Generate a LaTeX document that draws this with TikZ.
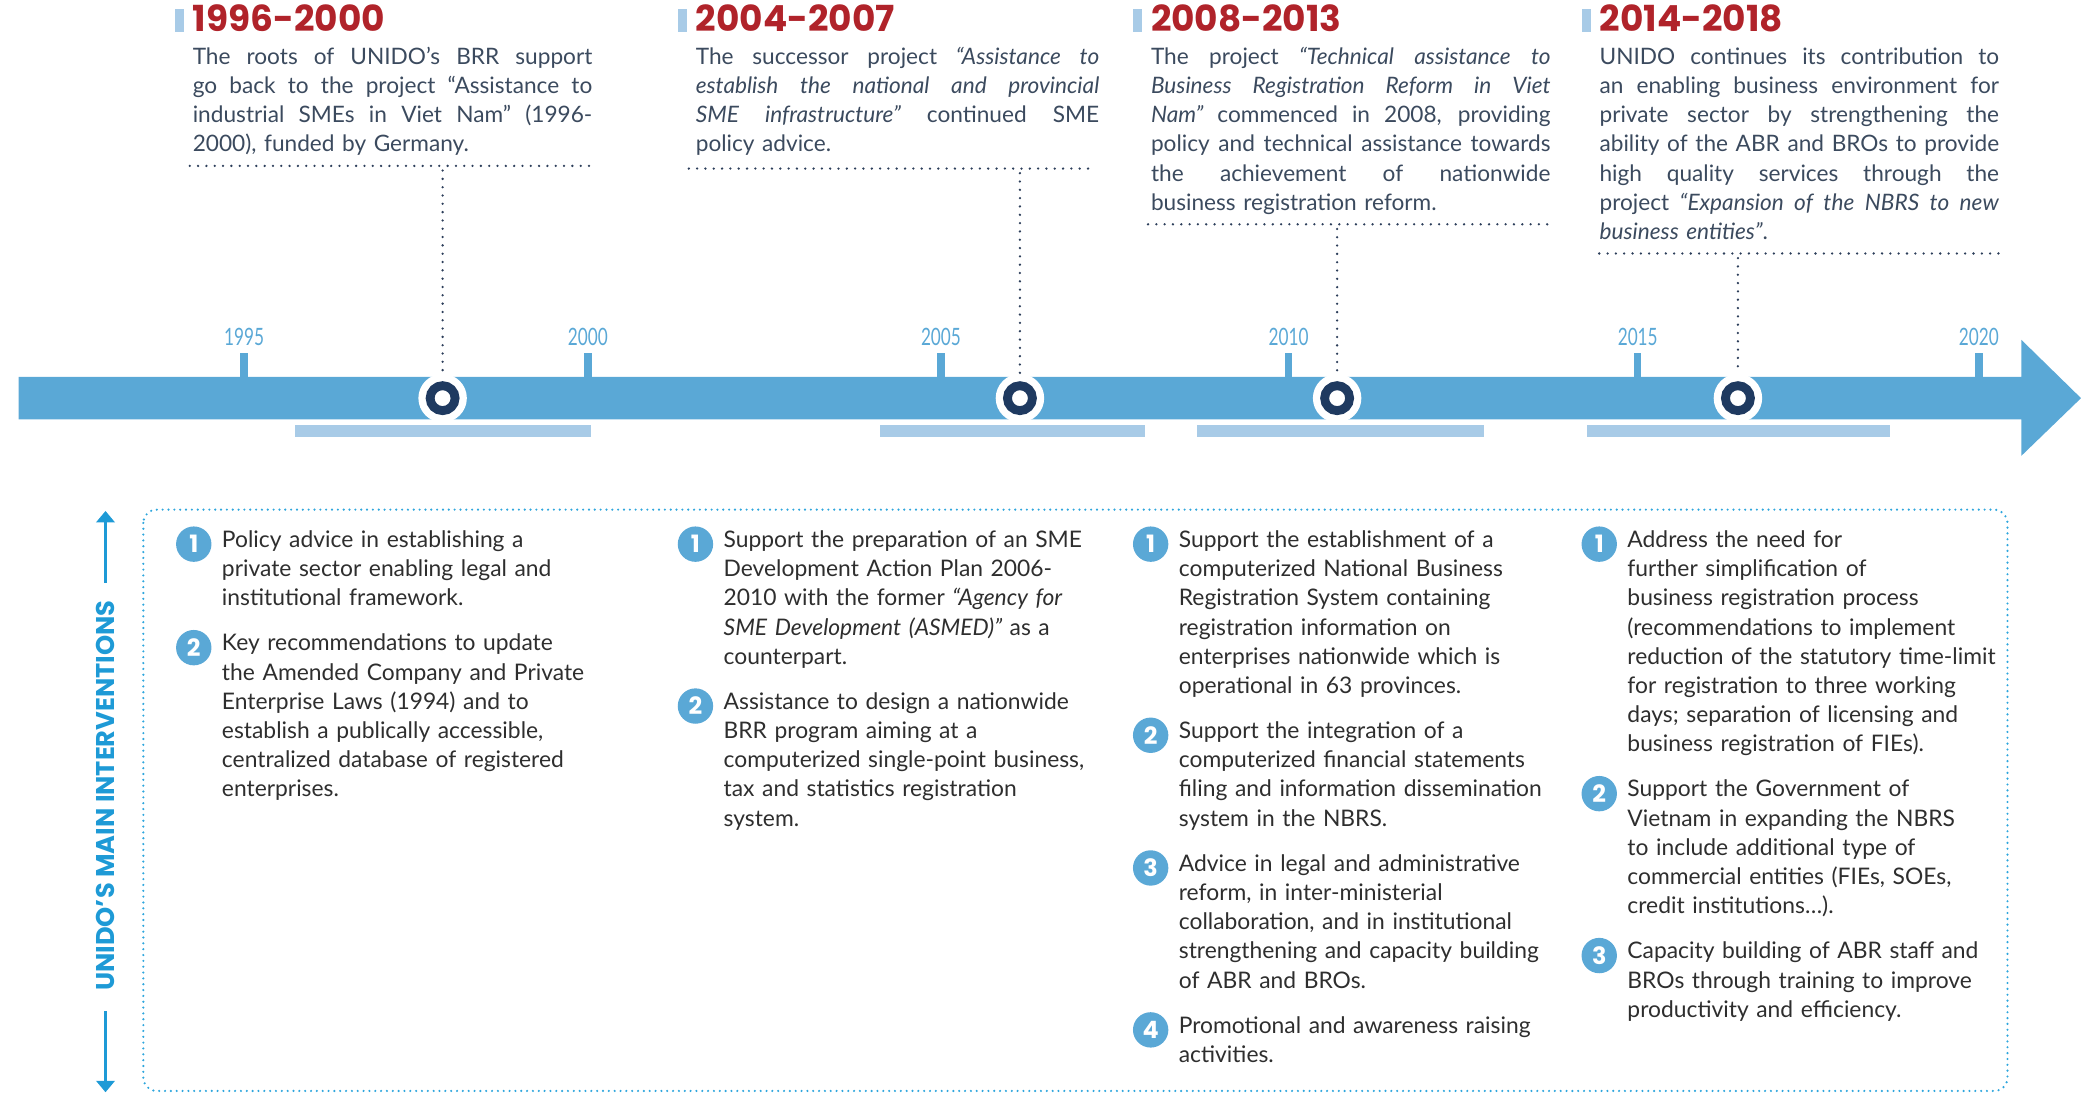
\documentclass[tikz,border=0pt]{standalone}
\usepackage{fontspec}
\setmainfont{Lato}
\newfontfamily\headfont{Poppins}
\newfontfamily\yearfont[FakeStretch=0.72]{Lato}
\usetikzlibrary{arrows.meta}
\definecolor{tlblue}{HTML}{5AA8D6}
\definecolor{lightbar}{HTML}{A8CBE7}
\definecolor{headred}{HTML}{B0232A}
\definecolor{navy}{HTML}{1F3A60}
\definecolor{toptext}{HTML}{3B4A5E}
\definecolor{bodytext}{HTML}{2E2E2E}
\definecolor{dotnavy}{HTML}{2C3E5A}
\definecolor{boxblue}{HTML}{2EA6DD}
\definecolor{titleblue}{HTML}{1E9AD6}
\newlength{\jw}
\setlength{\jw}{225.75pt}
\newcommand{\jline}[1]{\leavevmode\hbox to \jw{\spaceskip=\fontdimen2\font plus 1fil\relax #1}}
\begin{document}
\begin{tikzpicture}[x=0.75pt,y=-0.75pt,
  toptxt/.style={anchor=base west, inner sep=0pt, text width=240pt, align=left, text=toptext, font=\fontsize{12.8}{16.5}\selectfont},
  bodytxt/.style={anchor=base west, inner sep=0pt, text width=260pt, align=left, text=bodytext, font=\fontsize{12.9}{16.5}\selectfont},
  numc/.style={circle, fill=tlblue, inner sep=0pt, minimum size=20pt, text=white, font=\headfont\bfseries\fontsize{13.5}{13.5}\selectfont},
  headtxt/.style={anchor=base west, inner sep=0pt, text=headred, font=\headfont\bfseries\fontsize{20.3}{20.3}\selectfont},
  yeartxt/.style={anchor=base, inner sep=0pt, text=tlblue, font=\yearfont\fontsize{13.5}{13.5}\selectfont},
  milestone/.style={circle, fill=white, inner sep=0pt, minimum size=27.4pt},
  topdots/.style={draw=dotnavy, line width=1.45pt, line cap=round, dash pattern=on 0pt off 4.7pt},
  boxdots/.style={draw=boxblue, line width=1.35pt, line cap=round, dash pattern=on 0pt off 3.3pt},
  vline/.style={draw=titleblue, line width=1.3pt, -{Triangle[width=10.5pt,length=6.5pt]}}
]
\useasboundingbox (0,0) rectangle (1568,823.6);

% ---------- headings ----------
\foreach \bx/\tx/\lab/\nm in {131.5/145/1996-2000/h1, 511/524/2004-2007/h2, 853.5/867/2008-2013/h3, 1192/1205/2014-2018/h4}{
  \fill[lightbar] (\bx,7) rectangle ({\bx+7},24);
  \node[headtxt] (\nm) at (\tx,24) {\lab};
}

% ---------- top paragraphs ----------
\node[toptxt] (p1) at (145,48.5) {%
\jline{The roots of UNIDO’s BRR support}\\
\jline{go back to the project “Assistance to}\\
\jline{industrial SMEs in Viet Nam” (1996-}\\
2000), funded by Germany.};

\node[toptxt] (p2) at (524,48.5) {\setlength{\jw}{228pt}%
\jline{The successor project \textit{“Assistance to}}\\
\jline{\textit{establish the national and provincial}}\\
\jline{\textit{SME infrastructure”} continued SME}\\
policy advice.};

\node[toptxt] (p3) at (867,48.5) {%
\jline{The project \textit{“Technical assistance to}}\\
\jline{\textit{Business Registration Reform in Viet}}\\
\jline{\textit{Nam”} commenced in 2008, providing}\\
\jline{policy and technical assistance towards}\\
\jline{the achievement of nationwide}\\
business registration reform.};

\node[toptxt] (p4) at (1205,48.5) {%
\jline{UNIDO continues its contribution to}\\
\jline{an enabling business environment for}\\
\jline{private sector by strengthening the}\\
\jline{ability of the ABR and BROs to provide}\\
\jline{high quality services through the}\\
\jline{project \textit{“Expansion of the NBRS to new}}\\
\textit{business entities”}.};

% dotted separators under paragraphs
\draw[topdots] (143,125) -- (446,125);
\draw[topdots] (519,127) -- (823,127);
\draw[topdots] (865,169) -- (1166,169);
\draw[topdots] (1205,191) -- (1506,191);

\coordinate (v1) at (333.5,128.5);
\coordinate (v2) at (768.5,130.5);
\coordinate (v3) at (1007.5,172.5);
\coordinate (v4) at (1309.5,194.5);

% ---------- timeline ----------
\fill[tlblue] (14,284) -- (1523,284) -- (1523,256) -- (1568,300) -- (1523,343.5) -- (1523,316) -- (14,316) -- cycle;

\foreach \x/\y in {184/1995, 443/2000, 709/2005, 971/2010, 1234/2015, 1491/2020}{
  \fill[tlblue] ({\x-2.8},266) rectangle ({\x+2.8},285);
  \node[yeartxt] (y\y) at (\x,260) {\y};
}

% range bars
\fill[lightbar] (222,320) rectangle (445,329);
\fill[lightbar] (663,320) rectangle (863,329);
\fill[lightbar] (902,320) rectangle (1118,329);
\fill[lightbar] (1196,320) rectangle (1424,329);

% milestones
\node[milestone] (m1) at (333.5,300) {};
\node[milestone] (m2) at (768.5,300) {};
\node[milestone] (m3) at (1007.5,300) {};
\node[milestone] (m4) at (1309.5,300) {};
\foreach \m in {m1,m2,m3,m4}{
  \draw[navy, line width=5pt] (\m.center) circle[radius=9.4];
}
\draw[topdots] (v1) -- (m1.north);
\draw[topdots] (v2) -- (m2.north);
\draw[topdots] (v3) -- (m3.north);
\draw[topdots] (v4) -- (m4.north);

% ---------- interventions box ----------
\draw[boxdots, rounded corners=7.5pt] (108,384) rectangle (1512.6,822);

\node[rotate=90, inner sep=0pt, text=titleblue, font=\headfont\bfseries\fontsize{14.5}{14.5}\selectfont] (vt) at (79.5,599.5) {UNIDO’S MAIN INTERVENTIONS};
\coordinate (vta) at (79.5,439);
\coordinate (vtb) at (79.5,385);
\coordinate (vbc) at (79.5,762);
\coordinate (vbd) at (79.5,823);
\draw[vline] (vta) -- (vtb);
\draw[vline] (vbc) -- (vbd);

% column 1
\node[numc] (c11) at (146,410) {1};
\node[bodytxt] (t11) at (167,412.5) {Policy advice in establishing a\\
private sector enabling legal and\\
institutional framework.};
\node[numc] (c12) at (146,488) {2};
\node[bodytxt] (t12) at (167,490.5) {Key recommendations to update\\
the Amended Company and Private\\
Enterprise Laws (1994) and to\\
establish a publically accessible,\\
centralized database of registered\\
enterprises.};

% column 2
\node[numc] (c21) at (524,410) {1};
\node[bodytxt] (t21) at (545,412.5) {Support the preparation of an SME\\
Development Action Plan 2006-\\
2010 with the former \textit{“Agency for}\\
\textit{SME Development (ASMED)”} as a\\
counterpart.};
\node[numc] (c22) at (524,532) {2};
\node[bodytxt] (t22) at (545,534.5) {Assistance to design a nationwide\\
BRR program aiming at a\\
computerized single-point business,\\
tax and statistics registration\\
system.};

% column 3
\node[numc] (c31) at (867,410) {1};
\node[bodytxt] (t31) at (888,412.5) {Support the establishment of a\\
computerized National Business\\
Registration System containing\\
registration information on\\
enterprises nationwide which is\\
operational in 63 provinces.};
\node[numc] (c32) at (867,554) {2};
\node[bodytxt] (t32) at (888,556.5) {Support the integration of a\\
computerized financial statements\\
filing and information dissemination\\
system in the NBRS.};
\node[numc] (c33) at (867,654) {3};
\node[bodytxt] (t33) at (888,656.5) {Advice in legal and administrative\\
reform, in inter-ministerial\\
collaboration, and in institutional\\
strengthening and capacity building\\
of ABR and BROs.};
\node[numc] (c34) at (867,776) {4};
\node[bodytxt] (t34) at (888,778.5) {Promotional and awareness raising\\
activities.};

% column 4
\node[numc] (c41) at (1205,410) {1};
\node[bodytxt] (t41) at (1226,412.5) {Address the need for\\
further simplification of\\
business registration process\\
(recommendations to implement\\
reduction of the statutory time-limit\\
for registration to three working\\
days; separation of licensing and\\
business registration of FIEs).};
\node[numc] (c42) at (1205,598) {2};
\node[bodytxt] (t42) at (1226,600.5) {Support the Government of\\
Vietnam in expanding the NBRS\\
to include additional type of\\
commercial entities (FIEs, SOEs,\\
credit institutions…).};
\node[numc] (c43) at (1205,720) {3};
\node[bodytxt] (t43) at (1226,722.5) {Capacity building of ABR staff and\\
BROs through training to improve\\
productivity and efficiency.};
\end{tikzpicture}
\end{document}
